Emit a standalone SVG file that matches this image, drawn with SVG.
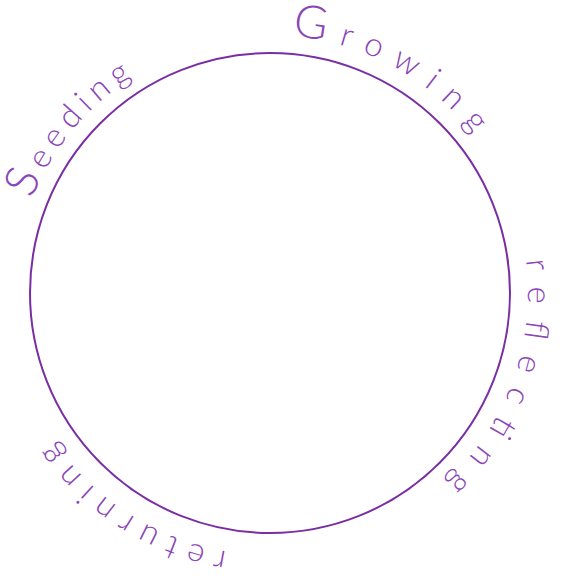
<svg xmlns="http://www.w3.org/2000/svg" xmlns:xlink="http://www.w3.org/1999/xlink" width="574" height="576" viewBox="0 0 574 576">
  <style>
    .ring { fill: none; stroke: #7a2ea3; stroke-width: 2; }
    .lbl { fill: #8a45b8; font-family: Lato, "Open Sans", "Liberation Sans", sans-serif; font-weight: 300; font-size: 33px; }
    .cap { font-size: 46px; }
  </style>
  <defs>
    <path id="p256" d="M270 37 A256 256 0 1 1 270 549 A256 256 0 1 1 270 37"/>
    <path id="p258" d="M270 35 A258 258 0 1 1 270 551 A258 258 0 1 1 270 35"/>
    <path id="p262" d="M270 31 A262 262 0 1 1 270 555 A262 262 0 1 1 270 31"/>
  </defs>
  <rect width="574" height="576" fill="#ffffff"/>
  <g id="cycle">
    <circle class="ring" cx="270" cy="293" r="240"/>
  </g>
  <g id="connectors"></g>
  <g id="seeding">
    <text class="lbl"><textPath xlink:href="#p256" href="#p256" startOffset="1302" textLength="160" lengthAdjust="spacing"><tspan class="cap">S</tspan>eeding</textPath></text>
  </g>
  <g id="growing">
    <text class="lbl"><textPath xlink:href="#p258" href="#p258" startOffset="22" textLength="212" lengthAdjust="spacing"><tspan class="cap">G</tspan>rowing</textPath></text>
  </g>
  <g id="reflecting">
    <text class="lbl"><textPath xlink:href="#p258" href="#p258" startOffset="372" textLength="245" lengthAdjust="spacing">reflecting</textPath></text>
  </g>
  <g id="returning">
    <text class="lbl"><textPath xlink:href="#p262" href="#p262" startOffset="866" textLength="210" lengthAdjust="spacing">returning</textPath></text>
  </g>
</svg>
